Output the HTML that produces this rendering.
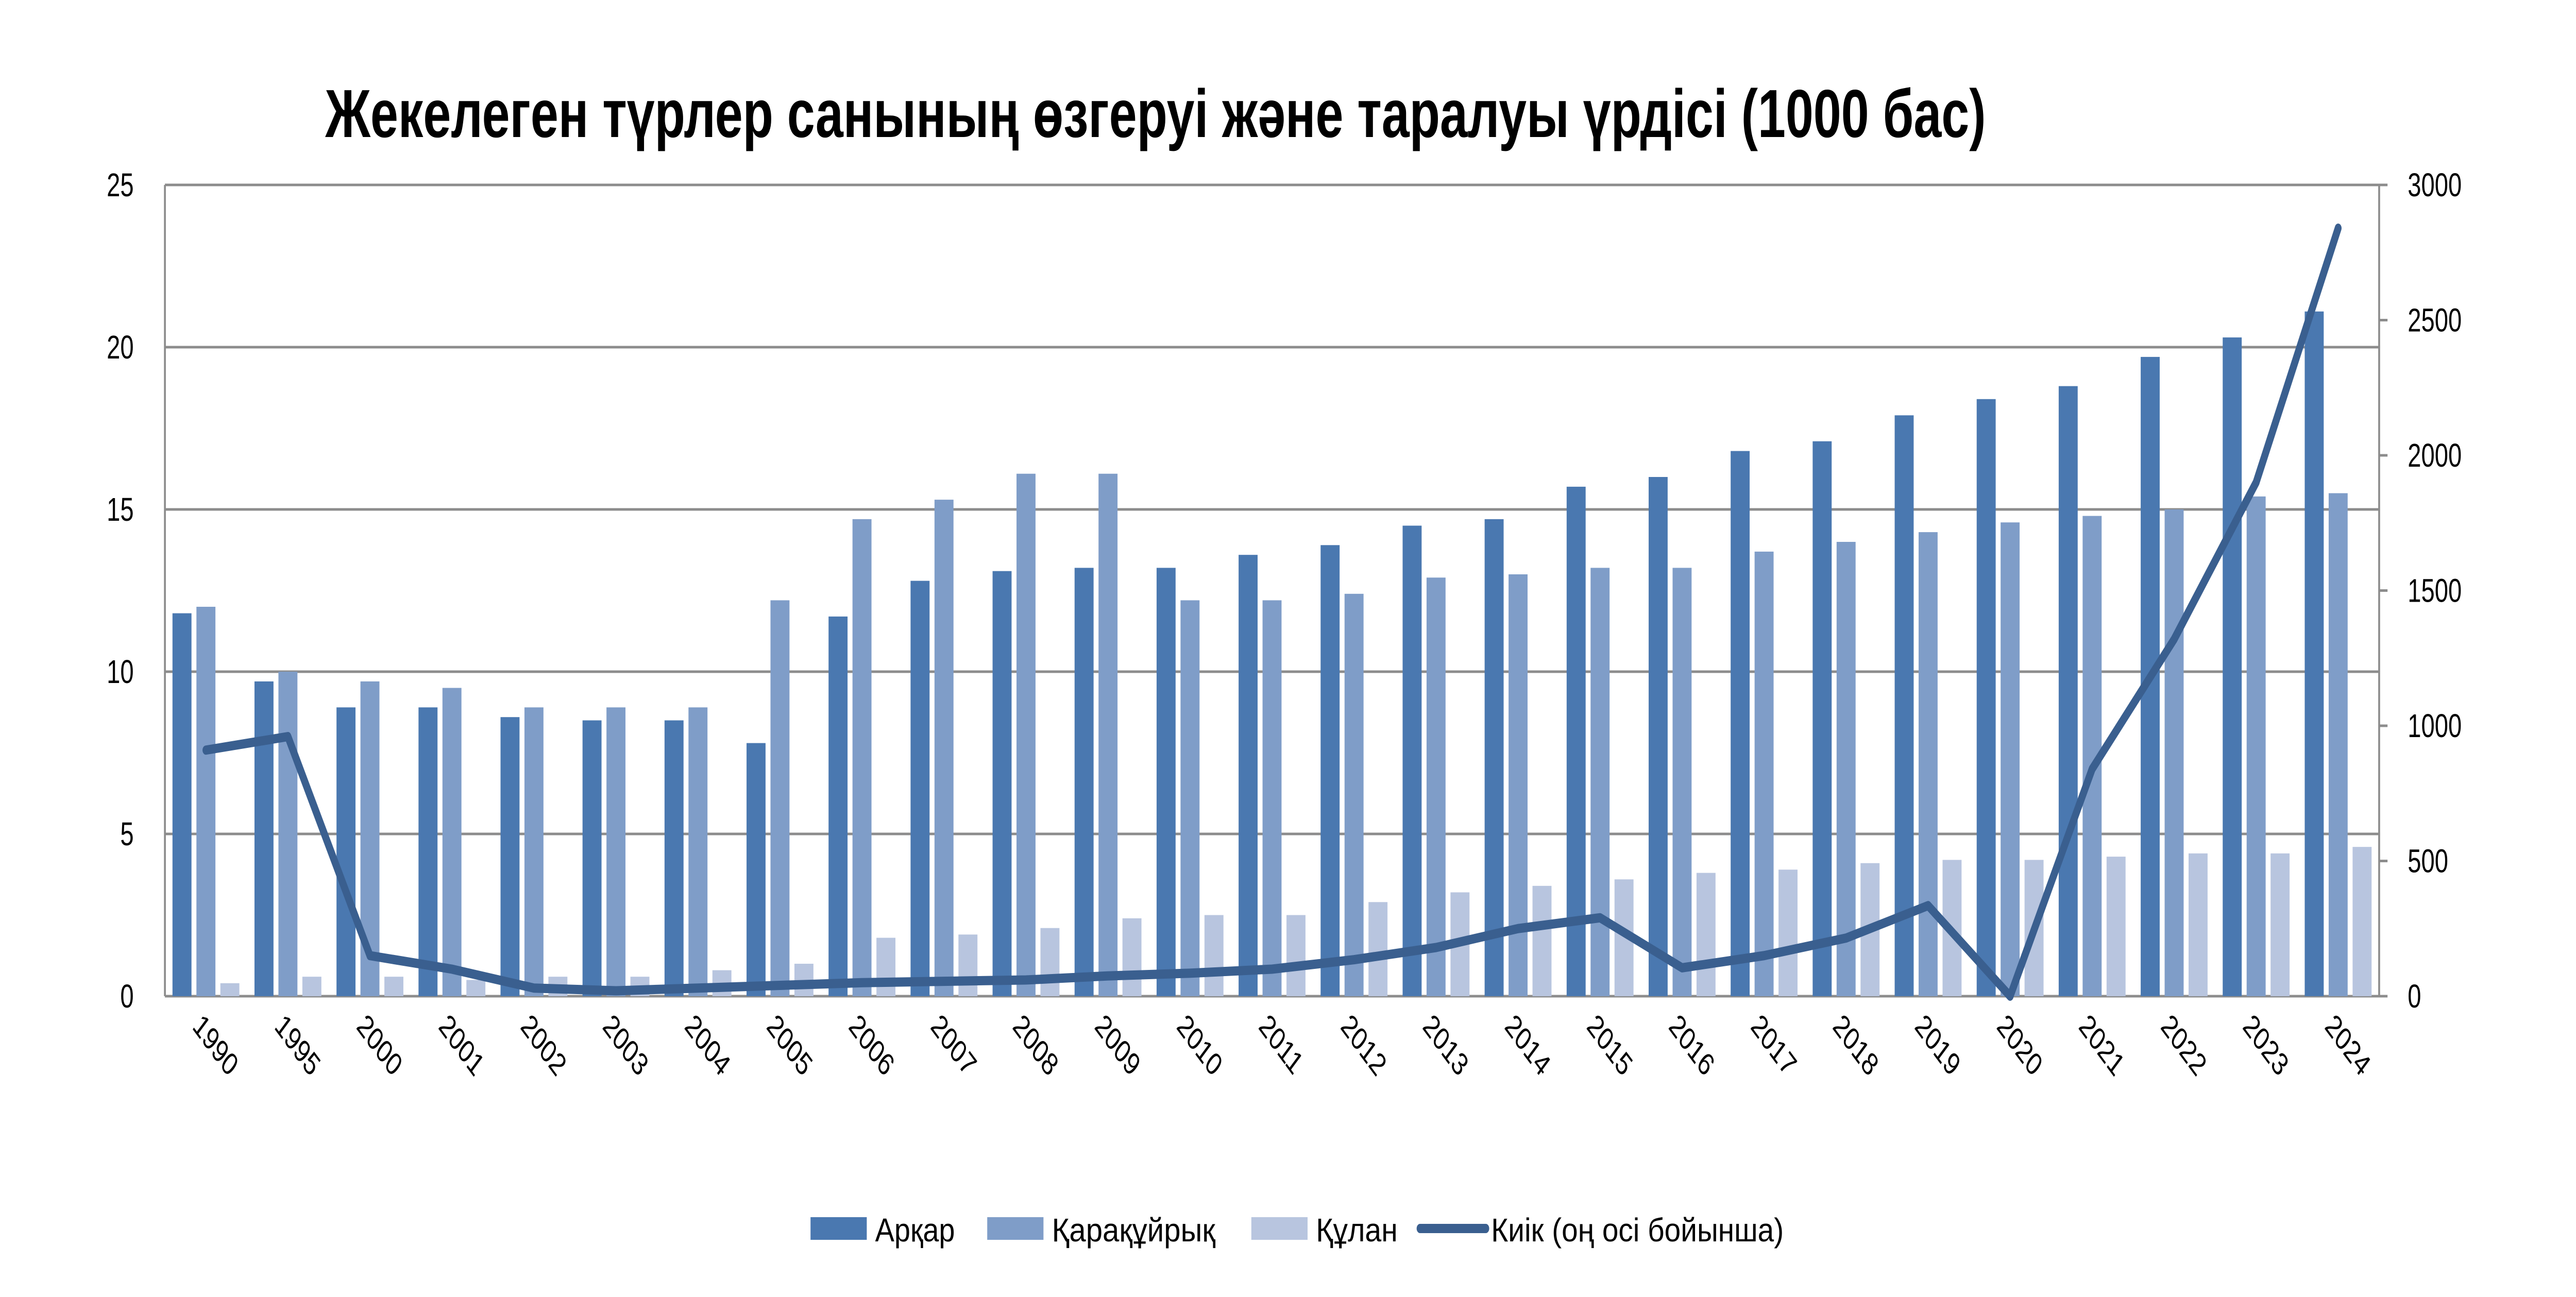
<!DOCTYPE html>
<html><head><meta charset="utf-8"><style>
html,body{margin:0;padding:0;background:#fff;width:100%;height:100%;overflow:hidden;}
svg{display:block;width:100vw;height:100vh;font-family:"Liberation Sans","DejaVu Sans",sans-serif;}
</style></head><body>
<svg id="chart" viewBox="0 0 6779 2518" preserveAspectRatio="none">
<text x="3041" y="266" text-anchor="middle" font-size="132" font-weight="bold" textLength="4370" lengthAdjust="spacingAndGlyphs">Жекелеген түрлер санының өзгеруі және таралуы үрдісі (1000 бас)</text>
<g id="grid"></g><g id="bars"></g><g id="line"></g><g id="axes"></g>
<g>
 <rect x="2133" y="2363" width="148" height="44" fill="#4a78b0"/>
 <text x="2303" y="2410" font-size="64" textLength="210" lengthAdjust="spacingAndGlyphs">Арқар</text>
 <rect x="2598" y="2363" width="148" height="44" fill="#7f9dc8"/>
 <text x="2768" y="2410" font-size="64" textLength="430" lengthAdjust="spacingAndGlyphs">Қарақұйрық</text>
 <rect x="3293" y="2363" width="148" height="44" fill="#b8c5df"/>
 <text x="3463" y="2410" font-size="64" textLength="215" lengthAdjust="spacingAndGlyphs">Құлан</text>
 <line x1="3737" y1="2385" x2="3910" y2="2385" stroke="#3a5f8f" stroke-width="18" stroke-linecap="round"/>
 <text x="3924" y="2410" font-size="64" textLength="770" lengthAdjust="spacingAndGlyphs">Киік (оң осі бойынша)</text>
</g>
</svg>
<script>
const categories=["1990","1995","2000","2001","2002","2003","2004","2005","2006","2007","2008","2009","2010","2011","2012","2013","2014","2015","2016","2017","2018","2019","2020","2021","2022","2023","2024"];
const arkar=[11.8,9.7,8.9,8.9,8.6,8.5,8.5,7.8,11.7,12.8,13.1,13.2,13.2,13.6,13.9,14.5,14.7,15.7,16.0,16.8,17.1,17.9,18.4,18.8,19.7,20.3,21.1];
const karakuiryk=[12.0,10.0,9.7,9.5,8.9,8.9,8.9,12.2,14.7,15.3,16.1,16.1,12.2,12.2,12.4,12.9,13.0,13.2,13.2,13.7,14.0,14.3,14.6,14.8,15.0,15.4,15.5];
const kulan=[0.4,0.6,0.6,0.5,0.6,0.6,0.8,1.0,1.8,1.9,2.1,2.4,2.5,2.5,2.9,3.2,3.4,3.6,3.8,3.9,4.1,4.2,4.2,4.3,4.4,4.4,4.6];
const kiik=[910,960,150,100,30,20,30,40,50,55,60,75,85,100,135,180,250,290,105,150,215,335,0,840,1320,1900,2840];
const leftTicks=[0,5,10,15,20,25];
const rightTicks=[0,500,1000,1500,2000,2500,3000];

const NS="http://www.w3.org/2000/svg";
const L=434,R=6261,T=359,B=1934;
const cw=(R-L)/categories.length;
const xc=i=>L+cw*(i+0.5);
const yL=v=>B-(v/25)*(B-T);
const yR=v=>B-(v/3000)*(B-T);
function mk(tag,attrs,parent){const e=document.createElementNS(NS,tag);for(const k in attrs)e.setAttribute(k,attrs[k]);parent.appendChild(e);return e;}
const grid=document.getElementById('grid'),bars=document.getElementById('bars'),lineG=document.getElementById('line'),axes=document.getElementById('axes');

leftTicks.forEach(v=>{
  const g=mk('line',{x1:L,x2:R,y1:yL(v),y2:yL(v),stroke:'#8c8c8c','stroke-width':5},grid);
  
  
  const t=mk('text',{x:352,y:yL(v)+22,'text-anchor':'end','font-size':64},axes);
  t.textContent=v;
  
  
});
rightTicks.forEach(v=>{
  const tk=mk('line',{x1:R,x2:R+22,y1:yR(v),y2:yR(v),stroke:'#8c8c8c','stroke-width':5},axes);
  
  
  const t=mk('text',{x:6336,y:yR(v)+22,'font-size':64},axes);
  t.textContent=v;
  
  
});
const la=mk('line',{x1:L,x2:L,y1:T,y2:B,stroke:'#8c8c8c','stroke-width':5},axes);


const ra=mk('line',{x1:R,x2:R,y1:T,y2:B,stroke:'#8c8c8c','stroke-width':5},axes);



const bw=50,series=[[arkar,'#4a78b0',-88,'arkar'],[karakuiryk,'#7f9dc8',-25,'karakuiryk'],[kulan,'#b8c5df',38,'kulan']];
categories.forEach((c,i)=>{
  series.forEach(([arr,col,off,nm])=>{
    const y=yL(arr[i]);
    const r=mk('rect',{x:xc(i)+off,y:y,width:bw,height:B-y,fill:col},bars);
    
    
  });
  const t=mk('text',{x:0,y:0,'font-size':62,transform:'translate('+(xc(i)-38)+',1995) rotate(45)'},axes);
  t.textContent=c;
  
  
});
const pts=kiik.map((v,i)=>xc(i)+','+yR(v)).join(' ');
const pl=mk('polyline',{points:pts,fill:'none',stroke:'#3a5f8f','stroke-width':18,'stroke-linejoin':'round','stroke-linecap':'round'},lineG);


</script>
</body></html>
